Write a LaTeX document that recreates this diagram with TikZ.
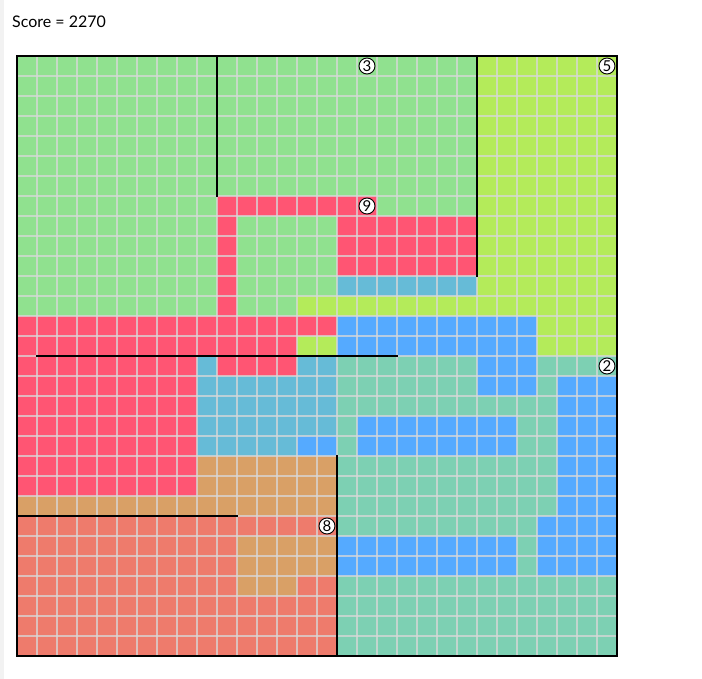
\documentclass[tikz,border=0pt]{standalone}
\usepackage{fontspec}
\setmainfont{Lato}
\definecolor{cellG}{HTML}{90E18F}
\definecolor{cellL}{HTML}{B4EB5A}
\definecolor{cellR}{HTML}{FF5573}
\definecolor{cellC}{HTML}{66BBD7}
\definecolor{cellB}{HTML}{55AAFF}
\definecolor{cellT}{HTML}{7DD0B3}
\definecolor{cellO}{HTML}{D9A066}
\definecolor{cellS}{HTML}{EE7B6C}
\definecolor{gridgray}{HTML}{D8D8D8}
\begin{document}
\begin{tikzpicture}[x=1pt,y=-1pt]
	\tikzset{grid_line/.style={gridgray,opacity=0.75,line width=1.5pt},
		wall_line/.style={line width=2pt,line cap=rect},
		room_num/.style={circle,draw,fill=white,line width=0.9pt,inner sep=0pt,minimum size=16pt,font=\fontsize{15}{15}\selectfont}}
	\useasboundingbox (0,0) rectangle (702,679);
	\fill[black!5] (0,0) rectangle (4,679);
	\node[anchor=base west,inner sep=0pt,font=\fontsize{16}{19}\selectfont] (score) at (12,28) {Score = 2270};
	\begin{scope}[shift={(17,56)},x=20pt,y=-20pt]
	\foreach \ra/\rb/\runs in {
		0/6/{G/0/22,L/23/29},
		7/7/{G/0/9,R/10/17,G/18/22,L/23/29},
		8/10/{G/0/9,R/10/10,G/11/15,R/16/22,L/23/29},
		11/11/{G/0/9,R/10/10,G/11/15,C/16/22,L/23/29},
		12/12/{G/0/9,R/10/10,G/11/13,L/14/29},
		13/13/{R/0/15,B/16/25,L/26/29},
		14/14/{R/0/13,L/14/15,B/16/25,L/26/29},
		15/15/{R/0/8,C/9/9,R/10/13,C/14/15,T/16/22,B/23/25,T/26/29},
		16/16/{R/0/8,C/9/15,T/16/22,B/23/25,T/26/26,B/27/29},
		17/17/{R/0/8,C/9/15,T/16/26,B/27/29},
		18/18/{R/0/8,C/9/15,T/16/16,B/17/24,T/25/26,B/27/29},
		19/19/{R/0/8,C/9/13,B/14/15,T/16/16,B/17/24,T/25/26,B/27/29},
		20/21/{R/0/8,O/9/15,T/16/26,B/27/29},
		22/22/{O/0/15,T/16/26,B/27/29},
		23/23/{S/0/15,T/16/25,B/26/29},
		24/25/{S/0/10,O/11/15,B/16/24,T/25/25,B/26/29},
		26/26/{S/0/10,O/11/13,S/14/15,T/16/29},
		27/29/{S/0/15,T/16/29}}
	{
		\foreach \col/\ca/\cb in \runs
			\fill[fill=cell\col] (\ca,\ra) rectangle (\cb+1,\rb+1);
	}
	\foreach \i in {1,...,29} {
		\draw[grid_line] (\i,0) -- (\i,30);
		\draw[grid_line] (0,\i) -- (30,\i);
	}
	\draw[wall_line] (10,0) -- (10,7);
	\draw[wall_line] (23,0) -- (23,11);
	\draw[wall_line] (1,15) -- (19,15);
	\draw[wall_line] (16,20) -- (16,30);
	\draw[wall_line] (0,23) -- (11,23);
	\draw[wall_line] (0,0) rectangle (30,30);
	\node[room_num] (room3) at (17.5,0.5) {3};
	\node[room_num] (room5) at (29.5,0.5) {5};
	\node[room_num] (room9) at (17.5,7.5) {9};
	\node[room_num] (room2) at (29.5,15.5) {2};
	\node[room_num] (room8) at (15.5,23.5) {8};
	\end{scope}
\end{tikzpicture}
\end{document}
